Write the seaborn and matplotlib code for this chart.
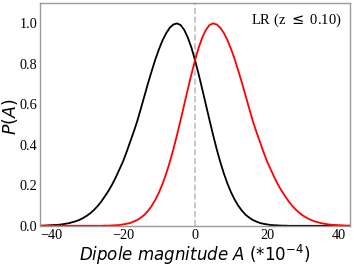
import matplotlib
matplotlib.use("Agg")
import pandas as pd
import matplotlib.pyplot as plt
import seaborn as sns

# dipole amplitude grid (units of 1e-4)
A = list(range(-43, 44))

black_p = [
    0.001,
    0.001, 0.002, 0.003, 0.004, 0.005, 0.007, 0.010, 0.013, 0.018, 0.023,
    0.030, 0.039, 0.050, 0.063, 0.079, 0.098, 0.120, 0.146, 0.173, 0.204,
    0.239, 0.278, 0.317, 0.364, 0.415, 0.465, 0.519, 0.581, 0.644, 0.707,
    0.766, 0.823, 0.873, 0.917, 0.952, 0.979, 0.995, 1.000, 0.992, 0.968,
    0.930, 0.880, 0.818, 0.749, 0.675, 0.599, 0.523, 0.449, 0.379, 0.315,
    0.258, 0.208, 0.165, 0.129, 0.099, 0.075, 0.055, 0.041, 0.029, 0.021,
    0.014, 0.010, 0.007, 0.004, 0.003, 0.002, 0.001, 0.001, 0.000, 0.000,
    0.000, 0.000, 0.000, 0.000, 0.000, 0.000, 0.000, 0.000, 0.000, 0.000,
    0.000, 0.000, 0.000, 0.000, 0.000,
    0.000,
]

red_p = [
    0.000,
    0.000, 0.000, 0.000, 0.000, 0.000,
    0.000, 0.000, 0.000, 0.000, 0.000, 0.000, 0.000, 0.000, 0.000, 0.000,
    0.000, 0.000, 0.001, 0.001, 0.002, 0.003, 0.004, 0.007, 0.010, 0.014,
    0.021, 0.029, 0.041, 0.055, 0.075, 0.099, 0.129, 0.165, 0.208, 0.258,
    0.315, 0.379, 0.449, 0.523, 0.599, 0.675, 0.749, 0.818, 0.880, 0.930,
    0.968, 0.992, 1.000, 0.995, 0.979, 0.952, 0.917, 0.873, 0.823, 0.766,
    0.707, 0.644, 0.581, 0.519, 0.465, 0.415, 0.364, 0.317, 0.278, 0.239,
    0.204, 0.173, 0.146, 0.120, 0.098, 0.079, 0.063, 0.050, 0.039, 0.030,
    0.023, 0.018, 0.013, 0.010, 0.007, 0.005, 0.004, 0.003, 0.002, 0.001,
    0.001,
]

label_text = "LR (z $\\leq$ 0.10)"

df = pd.DataFrame({"A": A, "black": black_p, "red": red_p})

sns.set_style("white")
plt.rcParams["font.family"] = ["DejaVu Sans"]

fig, ax = plt.subplots(figsize=(3.54, 2.66), dpi=100)
fig.subplots_adjust(left=0.113, right=0.989, top=0.988, bottom=0.151)

sns.lineplot(data=df, x="A", y="black", color="black", linewidth=1.3, ax=ax)
sns.lineplot(data=df, x="A", y="red", color="red", linewidth=1.3, ax=ax)
ax.axvline(0, color="0.75", linestyle="--", linewidth=1.2, zorder=0)

ax.set_xlim(-43, 43)
ax.set_ylim(0, 1.1)
ax.set_xticks([-40, -20, 0, 20, 40])
ax.set_yticks([0.0, 0.2, 0.4, 0.6, 0.8, 1.0])
ax.set_xticklabels(["\u221240", "\u221220", "0", "20", "40"])
ax.set_yticklabels(["0.0", "0.2", "0.4", "0.6", "0.8", "1.0"])
for lab in ax.get_xticklabels() + ax.get_yticklabels():
    lab.set_fontfamily("Liberation Serif")
    lab.set_fontsize(10.3)
    lab.set_color("black")
ax.tick_params(length=0, pad=2)

ax.set_xlabel("$Dipole\\ magnitude\\ A$ (*10$^{-4}$)", fontsize=12, color="black")
ax.set_ylabel("$P(A)$", fontsize=12.5, color="black")
ax.xaxis.set_label_coords(0.5, -0.075)
ax.yaxis.set_label_coords(-0.066, 0.49)

ax.text(0.973, 0.925, label_text, transform=ax.transAxes, ha="right", va="center",
        fontsize=10.5, family="Liberation Serif", color="black")

for s in ax.spines.values():
    s.set_color("0.6")
    s.set_linewidth(1.0)

fig.savefig("out.png", dpi=100)
